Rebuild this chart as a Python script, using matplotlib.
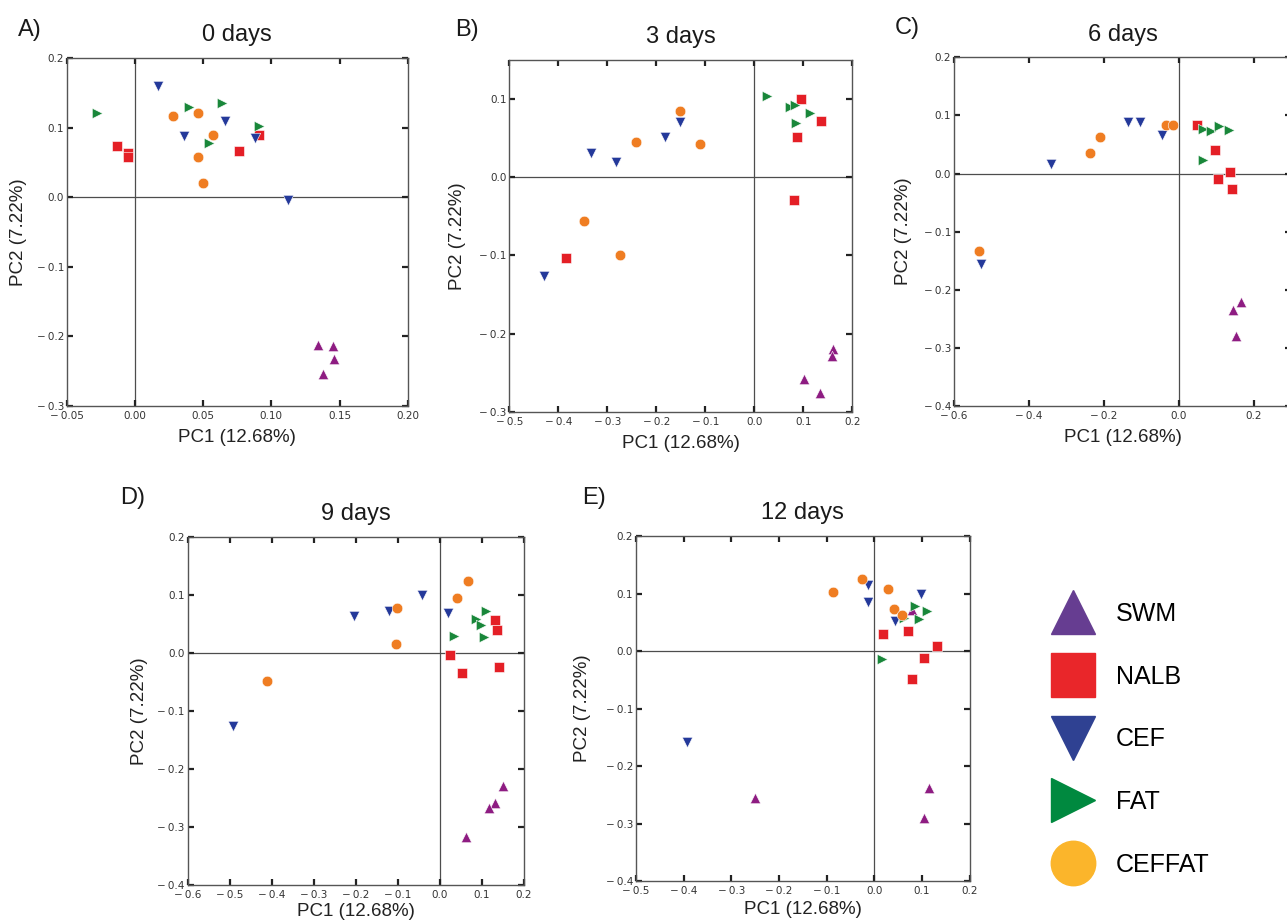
import numpy as np
import matplotlib
matplotlib.use("Agg")
import matplotlib.pyplot as plt
from matplotlib.lines import Line2D
from matplotlib.ticker import FixedLocator, FuncFormatter

groups = ["SWM", "NALB", "CEF", "FAT", "CEFFAT"]
markers = {"SWM": "^", "NALB": "s", "CEF": "v", "FAT": ">", "CEFFAT": "o"}
point_colors = {"SWM": "#8e1c82", "NALB": "#e41f26", "CEF": "#24399a",
                "FAT": "#19873a", "CEFFAT": "#ef7d22"}
legend_colors = {"SWM": "#663d91", "NALB": "#e9262a", "CEF": "#2f4192",
                 "FAT": "#00893f", "CEFFAT": "#fbb52b"}
sizes = {"SWM": 56, "NALB": 62, "CEF": 56, "FAT": 56, "CEFFAT": 58}

# PCA scores (PC1, PC2) per group for each sampling day
day0 = {
    "SWM": ([0.134, 0.145, 0.146, 0.138], [-0.212, -0.214, -0.233, -0.254]),
    "NALB": ([-0.013, -0.005, -0.005, 0.076, 0.091], [0.074, 0.064, 0.058, 0.066, 0.089]),
    "CEF": ([0.017, 0.036, 0.066, 0.088, 0.112], [0.160, 0.088, 0.109, 0.085, -0.004]),
    "FAT": ([-0.028, 0.040, 0.064, 0.091, 0.054], [0.121, 0.130, 0.136, 0.102, 0.078]),
    "CEFFAT": ([0.028, 0.046, 0.057, 0.046, 0.050], [0.116, 0.121, 0.090, 0.058, 0.020]),
}
day3 = {
    "SWM": ([0.161, 0.158, 0.102, 0.134], [-0.220, -0.229, -0.258, -0.276]),
    "NALB": ([0.095, 0.136, 0.088, 0.082, -0.384], [0.100, 0.072, 0.052, -0.029, -0.103]),
    "CEF": ([-0.152, -0.182, -0.334, -0.283, -0.430], [0.071, 0.052, 0.031, 0.020, -0.126]),
    "FAT": ([0.025, 0.073, 0.083, 0.114, 0.085], [0.104, 0.090, 0.093, 0.082, 0.069]),
    "CEFFAT": ([-0.151, -0.241, -0.110, -0.348, -0.274], [0.085, 0.045, 0.043, -0.056, -0.100]),
}
day6 = {
    "SWM": ([0.166, 0.145, 0.152], [-0.221, -0.234, -0.279]),
    "NALB": ([0.050, 0.097, 0.106, 0.137, 0.143], [0.083, 0.040, -0.009, 0.003, -0.026]),
    "CEF": ([-0.528, -0.342, -0.135, -0.102, -0.044], [-0.155, 0.016, 0.088, 0.089, 0.067]),
    "FAT": ([0.066, 0.086, 0.108, 0.135, 0.065], [0.076, 0.073, 0.082, 0.075, 0.024]),
    "CEFFAT": ([-0.533, -0.238, -0.210, -0.035, -0.016], [-0.133, 0.036, 0.063, 0.084, 0.083]),
}
day9 = {
    "SWM": ([0.150, 0.132, 0.116, 0.061], [-0.229, -0.258, -0.267, -0.318]),
    "NALB": ([0.132, 0.135, 0.023, 0.052, 0.141], [0.056, 0.039, -0.003, -0.034, -0.024]),
    "CEF": ([-0.042, -0.203, -0.121, 0.020, -0.491], [0.100, 0.064, 0.072, 0.068, -0.126]),
    "FAT": ([0.109, 0.086, 0.098, 0.033, 0.106], [0.072, 0.058, 0.048, 0.029, 0.028]),
    "CEFFAT": ([0.068, 0.040, -0.103, -0.104, -0.410], [0.124, 0.094, 0.078, 0.015, -0.049]),
}
day12 = {
    "SWM": ([0.078, -0.251, 0.115, 0.105], [0.071, -0.255, -0.238, -0.290]),
    "NALB": ([0.018, 0.071, 0.131, 0.105, 0.079], [0.029, 0.034, 0.009, -0.013, -0.048]),
    "CEF": ([-0.013, -0.014, 0.043, 0.098, -0.394], [0.115, 0.086, 0.052, 0.099, -0.159]),
    "FAT": ([0.085, 0.063, 0.094, 0.110, 0.016], [0.079, 0.058, 0.055, 0.069, -0.014]),
    "CEFFAT": ([-0.087, -0.026, 0.029, 0.042, 0.059], [0.103, 0.125, 0.107, 0.073, 0.063]),
}

W, H = 1287, 921

panels = [
    # letter, letter pos (px), title, data, axes box (px: left, top, right, bottom),
    # ylabel x (px), xlabel pad, xlim, xticks, x decimals, ylim, yticks
    ("A)", (18, 30), "0 days", day0, (66.7, 58, 407.7, 406), 27, 6,
     (-0.05, 0.20), np.arange(-0.05, 0.201, 0.05), 2, (-0.3, 0.2), np.arange(-0.3, 0.201, 0.1)),
    ("B)", (455, 30), "3 days", day3, (509.3, 60, 852.3, 411.7), 466, 6,
     (-0.5, 0.2), np.arange(-0.5, 0.201, 0.1), 1, (-0.3, 0.15), np.arange(-0.3, 0.101, 0.1)),
    ("C)", (895, 28), "6 days", day6, (954, 57.3, 1291, 406), 912, 6,
     (-0.6, 0.3), np.arange(-0.6, 0.201, 0.2), 1, (-0.4, 0.2), np.arange(-0.4, 0.201, 0.1)),
    ("D)", (120, 498), "9 days", day9, (187.5, 536.7, 524, 885), 148, 2.5,
     (-0.6, 0.2), np.arange(-0.6, 0.201, 0.1), 1, (-0.4, 0.2), np.arange(-0.4, 0.201, 0.1)),
    ("E)", (582, 498), "12 days", day12, (636, 536, 969.7, 881), 591, 4,
     (-0.5, 0.2), np.arange(-0.5, 0.201, 0.1), 1, (-0.4, 0.2), np.arange(-0.4, 0.201, 0.1)),
]


def tick_fmt(decimals):
    def f(v, pos):
        v = round(v, decimals)
        s = f"{abs(v):.{decimals}f}"
        return "\u2212\u2009" + s if v < 0 else s
    return FuncFormatter(f)


fig = plt.figure(figsize=(W / 100, H / 100), dpi=100)
label_font = "Liberation Sans"

for (letter, lpos, title, data, box, ylab_x, xpad,
     xlim, xticks, xdec, ylim, yticks) in panels:
    left, top, right, bottom = box
    ax = fig.add_axes([left / W, 1 - bottom / H, (right - left) / W, (bottom - top) / H])
    ax.axhline(0, color="#4d4d4d", lw=0.9, zorder=1)
    ax.axvline(0, color="#4d4d4d", lw=0.9, zorder=1)
    for g in groups:
        xs, ys = data[g]
        ax.scatter(xs, ys, marker=markers[g], s=sizes[g],
                   color=point_colors[g], edgecolors="white", linewidths=0.4, zorder=3)
    ax.set_xlim(*xlim)
    ax.set_ylim(*ylim)
    ax.xaxis.set_major_locator(FixedLocator(xticks))
    ax.yaxis.set_major_locator(FixedLocator(yticks))
    ax.xaxis.set_major_formatter(tick_fmt(xdec))
    ax.yaxis.set_major_formatter(tick_fmt(1))
    ax.tick_params(direction="in", length=4, width=1.6, top=True, right=True,
                   labelsize=7.5, labelcolor="#333333", color="#222222", pad=2)
    ax.tick_params(axis="x", pad=3.5)
    for sp in ax.spines.values():
        sp.set_color("#555555")
        sp.set_linewidth(1.0)
    ax.set_title(title, fontsize=17, family=label_font, color="#1a1a1a", pad=12)
    ax.set_xlabel("PC1 (12.68%)", fontsize=13.5, family=label_font, color="#222222", labelpad=xpad)
    ax.set_ylabel("PC2 (7.22%)", fontsize=13.5, family=label_font, color="#222222")
    ax.yaxis.set_label_coords((ylab_x - left) / (right - left), 0.5)
    fig.text(lpos[0] / W, 1 - lpos[1] / H, letter, fontsize=17,
             family=label_font, color="#1a1a1a", va="center", ha="left")

handles = [Line2D([], [], linestyle="none", marker=markers[g], markersize=32,
                  color=legend_colors[g]) for g in groups]
fig.legend(handles, groups, loc="upper left", bbox_to_anchor=(0.797, 0.371),
           frameon=False, labelspacing=1.55, handletextpad=0.7,
           prop={"family": label_font, "size": 18})

fig.savefig("out.png", dpi=100)
